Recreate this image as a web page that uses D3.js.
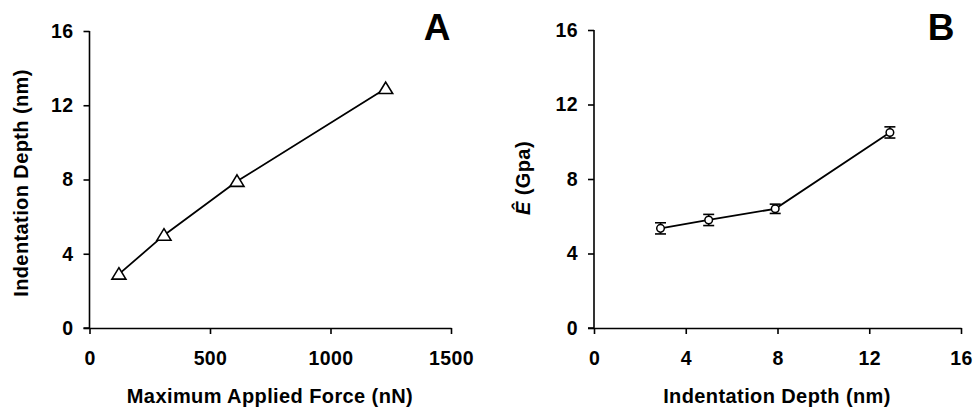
<!DOCTYPE html>
<html>
<head>
<meta charset="utf-8">
<script src="https://cdn.jsdelivr.net/npm/d3@7"></script>
<style>
  body { margin: 0; background: #fff; }
  text { font-family: "Liberation Sans", Arial, sans-serif; font-weight: bold; fill: #000; }
</style>
</head>
<body>
<div class="chart"></div>
<script>
let w = 974
let h = 410

// panel A: force vs depth
let forceA = [122, 309, 612, 1229]
let depthA = [2.9, 5.0, 7.9, 12.9]
let xTicksA = [0, 500, 1000, 1500]
let yTicksA = [0, 4, 8, 12, 16]

// panel B: depth vs modulus with error bars
let depthB = [2.9, 5.0, 7.9, 12.9]
let modB = [5.35, 5.8, 6.4, 10.5]
let errB = [0.3, 0.3, 0.25, 0.3]
let xTicksB = [0, 4, 8, 12, 16]
let yTicksB = [0, 4, 8, 12, 16]

let svg = d3.select(".chart")
            .append("svg")
            .attr("width", w)
            .attr("height", h)

// draws axes for one panel
function drawAxes(g, x, y, xTicks, yTicks) {
  let xAxis = d3.axisBottom(x).tickValues(xTicks).tickFormat(d3.format("d"))
                .tickSize(6).tickPadding(12).tickSizeOuter(0)
  let yAxis = d3.axisLeft(y).tickValues(yTicks).tickFormat(d3.format("d"))
                .tickSize(6).tickPadding(10).tickSizeOuter(0)
  let gx = g.append("g").attr("transform", "translate(0," + y.range()[0] + ")").call(xAxis)
  let gy = g.append("g").attr("transform", "translate(" + x.range()[0] + ",0)").call(yAxis)
  for (let a of [gx, gy]) {
    a.attr("font-size", null).attr("font-family", null)
    a.select(".domain").attr("stroke", "#000").attr("stroke-width", 1.6)
    a.selectAll(".tick line").attr("stroke", "#000").attr("stroke-width", 1.6)
    a.selectAll("text").style("font-size", "19.5px").style("letter-spacing", "0.4px").attr("fill", "#000")
  }
  gx.selectAll("text").attr("dy", "0.95em")
  // y axis line runs a bit left at the bottom, like the original
  gy.select(".domain").attr("d", "M0," + y.range()[1] + "V" + y.range()[0] + "H-6")
}

// ---- panel A ----
let xA = d3.scaleLinear().domain([0, 1500]).range([89.5, 451])
let yA = d3.scaleLinear().domain([0, 16]).range([328, 31])
let gA = svg.append("g")
drawAxes(gA, xA, yA, xTicksA, yTicksA)

let ptsA = forceA.map((f, i) => [f, depthA[i]])
gA.append("path")
  .attr("d", d3.line().x(d => xA(d[0])).y(d => yA(d[1]))(ptsA))
  .attr("fill", "none").attr("stroke", "#000").attr("stroke-width", 1.8)

gA.selectAll(".tri")
  .data(ptsA)
  .enter()
  .append("path")
  .attr("d", "M0,-6.5L7,5L-7,5Z")
  .attr("transform", d => "translate(" + xA(d[0]) + "," + yA(d[1]) + ")")
  .attr("fill", "#fff").attr("stroke", "#000").attr("stroke-width", 1.6)

gA.append("text")
  .attr("x", 270).attr("y", 403)
  .attr("text-anchor", "middle")
  .style("font-size", "20px")
  .style("letter-spacing", "0.4px")
  .text("Maximum Applied Force (nN)")

gA.append("text")
  .attr("transform", "translate(28,183) rotate(-90)")
  .attr("text-anchor", "middle")
  .style("font-size", "20px")
  .style("letter-spacing", "0.4px")
  .text("Indentation Depth (nm)")

gA.append("text")
  .attr("x", 437).attr("y", 40)
  .attr("text-anchor", "middle")
  .style("font-size", "37px")
  .text("A")

// ---- panel B ----
let xB = d3.scaleLinear().domain([0, 16]).range([594, 961])
let yB = d3.scaleLinear().domain([0, 16]).range([328, 30])
let gB = svg.append("g")
drawAxes(gB, xB, yB, xTicksB, yTicksB)

let ptsB = depthB.map((d, i) => [d, modB[i], errB[i]])
gB.append("path")
  .attr("d", d3.line().x(d => xB(d[0])).y(d => yB(d[1]))(ptsB))
  .attr("fill", "none").attr("stroke", "#000").attr("stroke-width", 1.8)

let eb = gB.selectAll(".err")
  .data(ptsB)
  .enter()
  .append("g")
  .attr("stroke", "#000").attr("stroke-width", 1.6)
eb.append("line")
  .attr("x1", d => xB(d[0])).attr("x2", d => xB(d[0]))
  .attr("y1", d => yB(d[1] - d[2])).attr("y2", d => yB(d[1] + d[2]))
eb.append("line")
  .attr("x1", d => xB(d[0]) - 5.5).attr("x2", d => xB(d[0]) + 5.5)
  .attr("y1", d => yB(d[1] - d[2])).attr("y2", d => yB(d[1] - d[2]))
eb.append("line")
  .attr("x1", d => xB(d[0]) - 5.5).attr("x2", d => xB(d[0]) + 5.5)
  .attr("y1", d => yB(d[1] + d[2])).attr("y2", d => yB(d[1] + d[2]))

gB.selectAll(".dot")
  .data(ptsB)
  .enter()
  .append("circle")
  .attr("cx", d => xB(d[0])).attr("cy", d => yB(d[1]))
  .attr("r", 3.8)
  .attr("fill", "#fff").attr("stroke", "#000").attr("stroke-width", 1.5)

gB.append("text")
  .attr("x", 777).attr("y", 403)
  .attr("text-anchor", "middle")
  .style("font-size", "20px")
  .style("letter-spacing", "0.4px")
  .text("Indentation Depth (nm)")

let yt = gB.append("text")
  .attr("transform", "translate(530,178) rotate(-90)")
  .attr("text-anchor", "middle")
  .style("font-size", "20px")
  .style("letter-spacing", "0.4px")
yt.append("tspan").style("font-style", "italic").text("Ê")
yt.append("tspan").text(" (Gpa)")

gB.append("text")
  .attr("x", 941).attr("y", 40)
  .attr("text-anchor", "middle")
  .style("font-size", "37px")
  .text("B")
</script>
</body>
</html>
